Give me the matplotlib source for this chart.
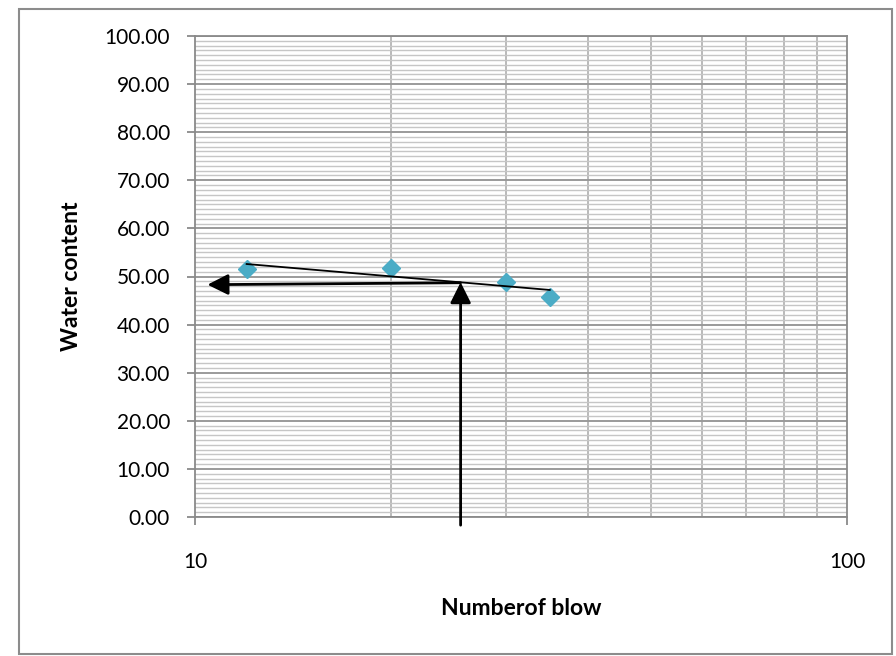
import matplotlib
matplotlib.use("Agg")
import matplotlib.pyplot as plt
import matplotlib.patches as patches
from matplotlib.ticker import LogLocator, MultipleLocator, FixedLocator, FixedFormatter, NullFormatter
import numpy as np

# Liquid limit test: number of blows vs water content
blows = [12, 20, 30, 35]
water_content = [51.6, 51.7, 48.8, 45.7]

# Reading of the flow curve (arrows)
reading_blows = 25.55
reading_water = 48.5

y_ticks = [0, 10, 20, 30, 40, 50, 60, 70, 80, 90, 100]
x_ticks = [10, 100]
x_tick_labels = ["10", "100"]

plt.rcParams['font.family'] = ['Lato', 'DejaVu Sans']

fig = plt.figure(figsize=(8.96, 6.56), dpi=100)
ax = fig.add_axes([195 / 896, 1 - 517 / 656, 652 / 896, 481 / 656])

ax.set_xscale('log')
ax.set_xlim(10, 100)
ax.set_ylim(0, 100)

# grid
ax.yaxis.set_major_locator(FixedLocator(y_ticks))
ax.yaxis.set_minor_locator(MultipleLocator(1))
ax.xaxis.set_major_locator(FixedLocator(x_ticks))
ax.xaxis.set_major_formatter(FixedFormatter(x_tick_labels))
ax.xaxis.set_minor_locator(LogLocator(base=10, subs=np.arange(2, 10)))
ax.xaxis.set_minor_formatter(NullFormatter())
ax.grid(which='minor', axis='y', color='#c6c6c6', lw=1.0, zorder=0)
ax.grid(which='major', axis='y', color='#9a9a9a', lw=1.4, zorder=0)
ax.grid(which='minor', axis='x', color='#b4b4b4', lw=1.3, zorder=0)
ax.set_axisbelow(True)

ax.yaxis.set_major_formatter(plt.FuncFormatter(lambda v, p: f"{v:.2f}"))
ax.tick_params(axis='y', which='major', length=6, width=1.3, color='#8a8a8a',
               pad=12, labelsize=15, labelcolor='black')
ax.tick_params(axis='x', which='major', length=6, width=1.3, color='#8a8a8a',
               pad=19, labelsize=15, labelcolor='black')
ax.tick_params(which='minor', length=0)

for side in ['left', 'bottom', 'right', 'top']:
    ax.spines[side].set_color('#8a8a8a')
    ax.spines[side].set_linewidth(1.3)

# data points
ax.plot(blows, water_content, linestyle='none', marker='D', markersize=9.5,
        color='#4bacc6', markeredgecolor='#4bacc6', zorder=3)

# logarithmic trend line over the data range
coef = np.polyfit(np.log(blows), water_content, 1)
xt = np.array([min(blows), max(blows)])
ax.plot(xt, np.polyval(coef, np.log(xt)), color='black', lw=1.3, zorder=4)

# arrows reading the water content at the chosen number of blows
arrow_kw = dict(arrowstyle='-|>,head_length=0.7,head_width=0.35', lw=2,
                color='black', shrinkA=0, shrinkB=0, mutation_scale=18)
ax.annotate('', xy=(reading_blows, reading_water + 0.3),
            xytext=(reading_blows, -1.7),
            arrowprops=arrow_kw, annotation_clip=False, zorder=5)
ax.annotate('', xy=(10.45, reading_water - 0.2),
            xytext=(reading_blows, reading_water + 0.2),
            arrowprops=arrow_kw, annotation_clip=False, zorder=5)

ax.set_xlabel('Numberof blow', fontsize=16.5, fontweight='bold', labelpad=19)
ax.set_ylabel('Water content', fontsize=16.5, fontweight='bold', labelpad=16)

# outer chart frame
fig.patches.append(patches.Rectangle((19 / 896, 1 - 654 / 656), 873 / 896, 645 / 656,
                                     transform=fig.transFigure, fill=False,
                                     edgecolor='#8c8c8c', lw=1.5))

fig.savefig('out.png', dpi=100)
